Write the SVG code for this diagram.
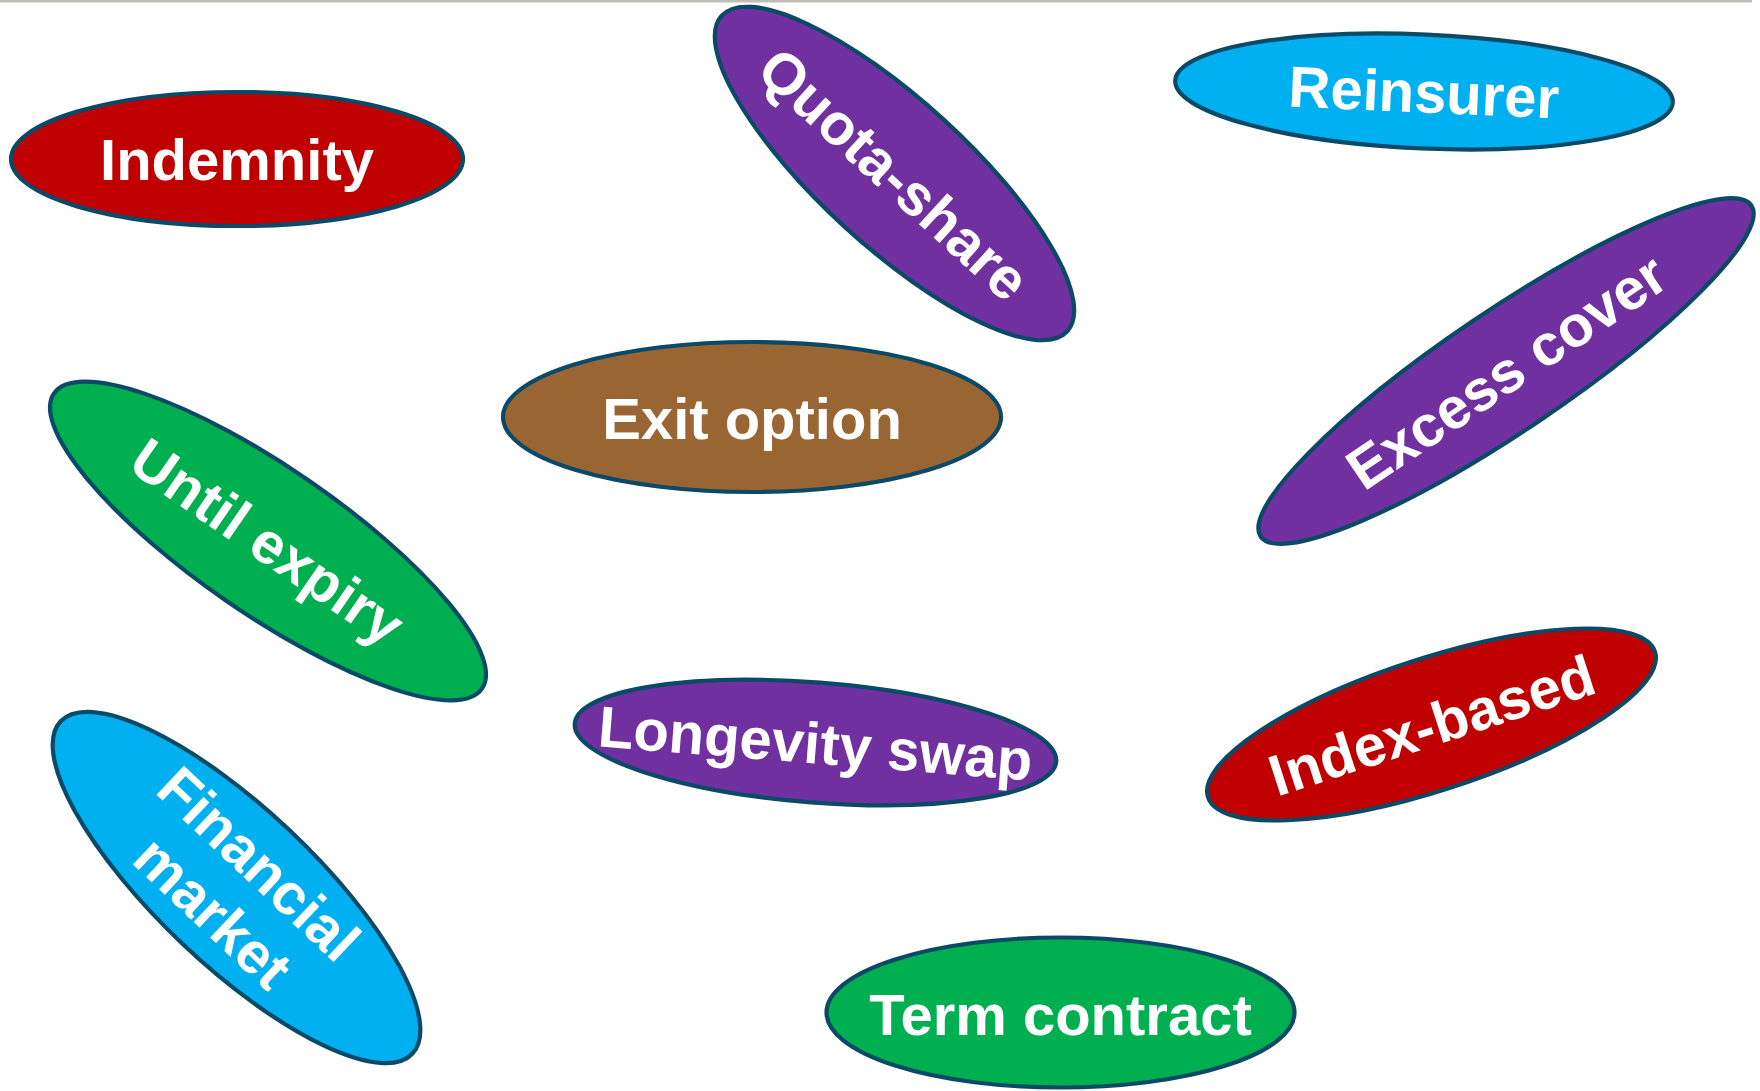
<svg xmlns="http://www.w3.org/2000/svg" width="1760" height="1091" viewBox="0 0 1760 1091">
<style>
.n ellipse{stroke:#0A4A66;stroke-width:4.2}
.n text{font-family:"Liberation Sans",Arial,sans-serif;font-weight:bold;font-size:58px;fill:#FFFFFF;text-anchor:middle}
.red{fill:#C00000}.pur{fill:#7030A0}.blu{fill:#00B0F0}.grn{fill:#00B050}.brn{fill:#996633}
</style>
<rect x="0" y="0" width="1752" height="2.5" fill="#BEBEB6"/>
<g id="connectors"/>
<g id="indemnity" class="n" transform="translate(237,159)"><ellipse class="red" rx="226" ry="67"/><text y="21">Indemnity</text></g>
<g id="quota-share" class="n" transform="translate(894.5,173.5) rotate(42.4)"><ellipse class="pur" rx="234" ry="73"/><text y="21">Quota-share</text></g>
<g id="reinsurer" class="n" transform="translate(1424,91.5) rotate(2.5)"><ellipse class="blu" rx="249" ry="57"/><text y="21">Reinsurer</text></g>
<g id="excess-cover" class="n" transform="translate(1506,371) rotate(-34)"><ellipse class="pur" rx="296" ry="60"/><text y="21">Excess cover</text></g>
<g id="exit-option" class="n" transform="translate(752,417)"><ellipse class="brn" rx="249" ry="75"/><text y="22">Exit option</text></g>
<g id="until-expiry" class="n" transform="translate(268,541) rotate(34.6)"><ellipse class="grn" rx="260" ry="73"/><text y="21">Until expiry</text></g>
<g id="longevity-swap" class="n" transform="translate(815.5,742.5) rotate(4.5)"><ellipse class="pur" rx="241.5" ry="60"/><text y="21">Longevity swap</text></g>
<g id="index-based" class="n" transform="translate(1431.5,724.5) rotate(-18)"><ellipse class="red" rx="235" ry="66"/><text y="21">Index-based</text></g>
<g id="financial-market" class="n" transform="translate(236.5,887.5) rotate(43.4)"><ellipse class="blu" rx="242" ry="78"/><text y="-12.5">Financial</text><text y="54.5">market</text></g>
<g id="term-contract" class="n" transform="translate(1060.5,1012.5)"><ellipse class="grn" rx="234" ry="75"/><text y="22">Term contract</text></g>
</svg>
